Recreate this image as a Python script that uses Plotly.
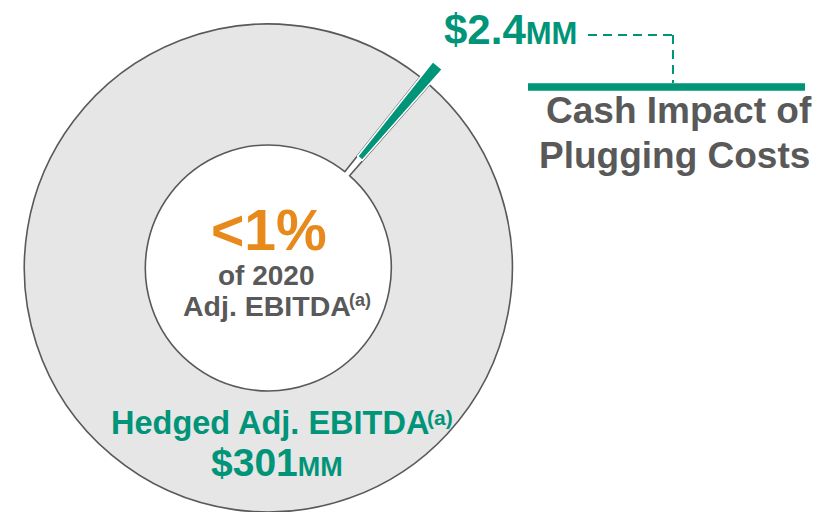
import math
import plotly.graph_objects as go

# --- data -------------------------------------------------------------
slice_labels = ["Cash Impact of Plugging Costs", "Remaining Hedged Adj. EBITDA"]
hedged_adj_ebitda = 301.0   # $MM
plugging_cost = 2.4         # $MM
slice_values = [plugging_cost, hedged_adj_ebitda - plugging_cost]

# --- styling ----------------------------------------------------------
W, H = 820, 512
TEAL = "#009479"
ORANGE = "#E8891C"
DARK = "#595959"
RING = "#E6E6E6"
CLEAR = "rgba(0,0,0,0)"
FONT = "Liberation Sans, Arial, sans-serif"

# donut geometry in pixels (centre, outer radius) and the outward shift of the
# highlighted slice
cx, cy, r = 268.3, 268.0, 244.0
hole = 0.504
pull_px = 20.0

share = slice_values[0] / sum(slice_values)
slice_mid_deg = 39.9
rotation = slice_mid_deg - share * 360 / 2

dx = pull_px * math.sin(math.radians(slice_mid_deg))
dy = pull_px * math.cos(math.radians(slice_mid_deg))


def domain(px_cx, px_cy, rad):
    return dict(
        x=[(px_cx - rad) / W, (px_cx + rad) / W],
        y=[(H - px_cy - rad) / H, (H - px_cy + rad) / H],
    )


fig = go.Figure()

# grey ring with an empty gap where the plugging-cost slice sits
fig.add_trace(go.Pie(
    labels=slice_labels, values=slice_values, sort=False,
    direction="clockwise", rotation=rotation, hole=hole,
    marker=dict(colors=[CLEAR, RING], line=dict(color=[CLEAR, DARK], width=1.6)),
    textinfo="none", hoverinfo="label+value", showlegend=False,
    domain=domain(cx, cy, r),
))

# plugging-cost slice, shifted outwards
fig.add_trace(go.Pie(
    labels=slice_labels, values=slice_values, sort=False,
    direction="clockwise", rotation=rotation, hole=hole,
    marker=dict(colors=[TEAL, CLEAR], line=dict(color=["white", CLEAR], width=1.6)),
    textinfo="none", hoverinfo="label+value", showlegend=False,
    domain=domain(cx + dx, cy - dy, r),
))


def px_x(x):
    return x / W


def px_y(y):
    return 1 - y / H


def label(text, x, y, size, color, xanchor="center"):
    fig.add_annotation(
        text=text, x=px_x(x), y=px_y(y), xref="paper", yref="paper",
        xanchor=xanchor, yanchor="middle", showarrow=False, borderpad=0,
        font=dict(family=FONT, size=size, color=color),
    )


pct = share * 100
label(f"<b>&lt;{math.ceil(pct):.0f}%</b>", 268.5, 230, 57, ORANGE)
label("<b>of 2020</b>", 266, 275, 28, DARK)
label("<b>Adj. EBITDA</b>", 352, 306, 28.5, DARK, xanchor="right")
label("<b>(a)</b>", 348, 300, 18, DARK, xanchor="left")

label("<b>Hedged Adj. EBITDA</b>", 430, 423, 32.5, TEAL, xanchor="right")
label("<b>(a)</b>", 426, 417, 21, TEAL, xanchor="left")
label(f"<b>${hedged_adj_ebitda:.0f}<span style='font-size:27px'>MM</span></b>",
      277, 462, 39, TEAL)

label(f"<b>${plugging_cost:.1f}<span style='font-size:31px'>MM</span></b>",
      510, 29, 42, TEAL)
label("<b>Cash Impact of</b>", 678.5, 110, 37, DARK)
label("<b>Plugging Costs</b>", 674, 155, 37, DARK)

# callout connector: dashed elbow into a solid underline
fig.add_shape(type="line", xref="paper", yref="paper",
              x0=px_x(588), y0=px_y(35), x1=px_x(673), y1=px_y(35),
              line=dict(color=TEAL, width=2, dash="9px,6px"))
fig.add_shape(type="line", xref="paper", yref="paper",
              x0=px_x(673), y0=px_y(35), x1=px_x(673), y1=px_y(83),
              line=dict(color=TEAL, width=2, dash="9px,6px"))
fig.add_shape(type="line", xref="paper", yref="paper",
              x0=px_x(528), y0=px_y(87), x1=px_x(805), y1=px_y(87),
              line=dict(color=TEAL, width=7.5))

fig.update_layout(
    width=W, height=H,
    margin=dict(l=0, r=0, t=0, b=0),
    paper_bgcolor="white", plot_bgcolor="white",
    font=dict(family=FONT),
)

fig.write_html("out.html")
